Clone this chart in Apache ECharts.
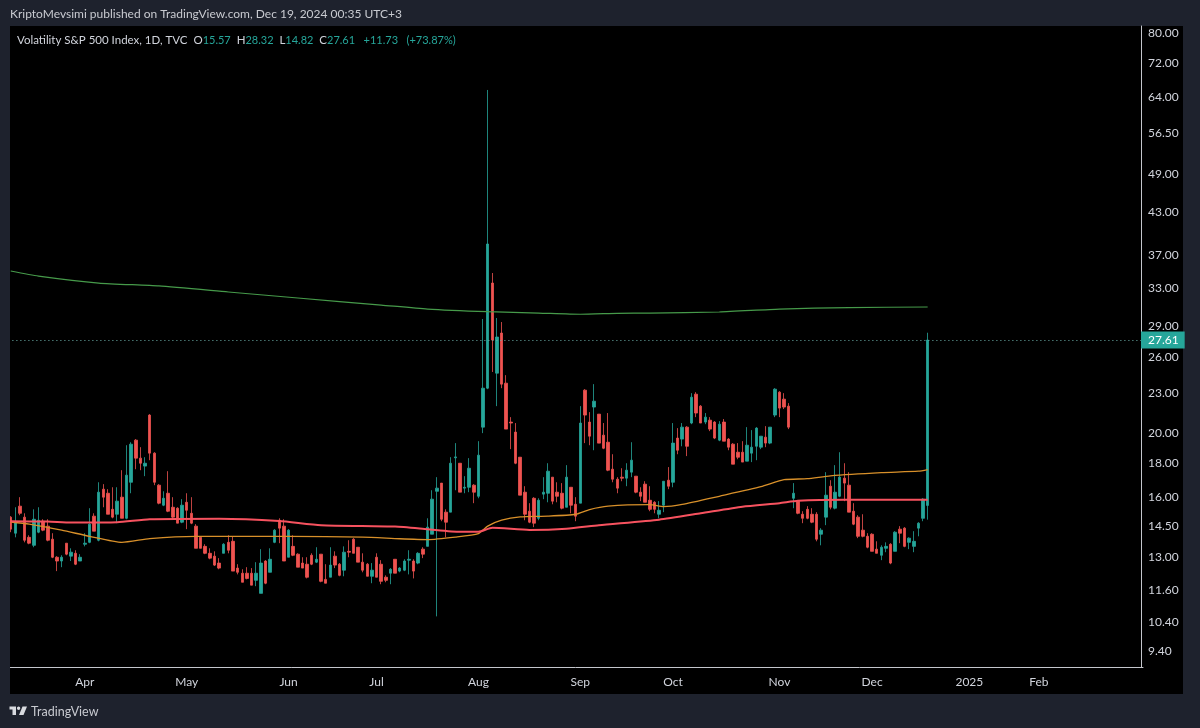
<!DOCTYPE html>
<html><head><meta charset="utf-8">
<style>html,body{margin:0;padding:0;background:#1e222d}#c{width:1200px;height:728px}</style>
<script src="https://cdn.jsdelivr.net/npm/echarts@6/dist/echarts.min.js"></script>
</head><body><div id="c"></div>
<script>
const publisher = 'KriptoMevsimi published on TradingView.com, Dec 19, 2024 00:35 UTC+3';
const symbolName = 'Volatility S&P 500 Index, 1D, TVC';
const lastQuote = {O:'15.57',H:'28.32',L:'14.82',C:'27.61',chg:'+11.73',pct:'(+73.87%)'};
const yTicks = [80,72,64,56.5,49,43,37,33,29,26,23,20,18,16,14.5,13,11.6,10.4,9.4];
const monthLabels = [[16,'Apr'],[38,'May'],[60,'Jun'],[79,'Jul'],[101,'Aug'],[123,'Sep'],[143,'Oct'],[166,'Nov'],[186,'Dec'],[207,'2025'],[222,'Feb']];
const lastPrice = 27.61;
const slotCount = 245;

const opens = [14.95,14.14,15.53,14.95,13.94,13.56,14.19,14.74,14.49,13.85,
13.01,12.84,13.66,13.06,13.19,12.84,13.61,13.70,15.00,13.80,
16.47,16.24,15.36,15.10,16.02,14.89,16.87,19.52,18.34,17.84,
21.29,18.66,16.70,15.58,16.24,15.47,15.42,14.69,15.74,15.15,
14.49,13.94,13.51,13.19,13.06,12.75,13.19,13.70,13.75,12.53,
12.31,12.31,12.31,12.01,11.48,12.84,12.35,13.70,14.79,14.49,
13.01,13.51,13.15,12.75,12.70,13.10,12.79,13.15,12.05,12.14,
13.06,12.70,12.44,13.28,13.85,13.47,12.79,12.70,12.18,13.01,
12.70,12.14,12.31,12.92,12.40,12.44,12.88,12.84,12.75,13.38,
13.51,14.09,16.35,16.82,15.21,15.21,18.36,18.02,16.53,16.58,
16.70,16.07,20.42,23.37,33.64,24.62,28.29,23.78,20.78,20.07,
18.40,16.30,15.26,15.96,14.89,16.19,16.24,17.17,16.30,16.24,
15.47,16.58,15.63,15.69,23.21,20.78,21.89,21.36,19.86,19.38,
17.65,17.05,17.17,17.11,17.47,17.23,16.30,16.76,15.85,15.74,
15.10,15.58,16.99,16.87,19.66,19.59,20.42,20.71,22.89,21.96,
20.78,20.92,20.78,19.52,20.78,19.59,19.25,18.72,18.72,18.15,
18.66,19.11,19.05,19.72,19.32,21.29,23.05,22.50,21.96,15.96,
15.80,15.10,15.36,15.10,15.10,14.09,14.95,16.64,15.42,16.07,
17.11,16.70,15.26,14.95,14.29,13.99,14.09,13.38,13.10,13.42,
13.61,13.28,14.34,14.39,13.70,13.51,14.39,14.89,15.57];

const closes = [14.34,14.69,15.15,13.80,13.66,14.84,14.79,14.29,13.80,13.01,
12.84,13.01,13.15,13.24,12.70,13.01,13.66,14.59,14.24,16.30,
16.02,15.10,14.95,15.80,14.89,17.29,19.25,18.34,18.02,18.02,
18.66,16.87,15.69,15.96,15.26,14.95,14.64,15.58,15.31,14.64,
13.42,13.42,13.19,12.97,12.66,12.53,13.61,13.33,12.40,12.35,
11.93,12.09,11.81,12.31,12.75,11.89,12.92,14.29,14.39,12.84,
14.29,13.10,12.57,12.53,12.14,12.70,12.92,11.97,11.89,12.66,
12.66,12.22,13.24,13.24,13.19,12.79,12.44,12.18,12.44,12.14,
11.97,12.01,12.48,12.31,12.53,12.84,12.92,12.40,13.19,13.15,
14.44,15.91,16.53,14.84,14.69,18.02,18.42,16.30,16.58,17.71,
16.30,18.53,23.37,38.51,27.61,27.90,23.70,20.28,20.71,18.02,
16.13,15.10,14.69,14.64,15.85,16.30,17.53,15.80,16.07,15.42,
17.17,15.58,15.00,20.71,21.29,19.79,22.34,19.32,18.98,17.59,
17.05,16.53,17.11,17.59,18.21,16.30,16.07,15.74,15.36,15.36,
15.31,16.93,16.64,19.32,18.85,20.42,19.11,22.65,21.44,20.71,
21.14,20.28,19.66,20.63,19.45,19.05,17.96,18.40,18.09,19.18,
19.05,20.35,19.79,19.32,20.42,23.29,21.81,21.89,20.42,16.24,
15.15,14.89,14.89,14.69,13.85,14.29,16.13,15.47,16.30,17.17,
16.82,15.21,14.59,13.99,13.99,13.47,13.28,13.19,13.47,13.51,
12.75,14.19,14.14,13.51,13.90,13.75,14.64,15.91,27.61];

const highs = [15.00,15.47,16.02,15.15,14.04,15.36,15.47,14.84,14.84,14.14,
13.06,13.10,13.66,13.42,13.33,13.15,14.14,15.42,15.15,16.87,
16.76,16.47,16.58,16.58,17.59,19.18,19.38,19.59,19.05,18.40,
21.36,18.72,16.76,16.35,17.53,16.02,15.47,15.91,16.24,16.02,
14.59,13.94,13.61,13.42,13.28,12.97,13.66,14.04,13.99,12.70,
12.48,12.57,12.53,12.79,13.38,12.88,13.42,14.34,14.89,14.84,
14.34,14.04,13.19,13.01,13.01,13.19,13.47,13.15,12.70,13.47,
13.28,12.75,13.51,13.80,13.90,13.47,13.19,12.75,12.75,13.19,
12.88,12.22,12.53,12.92,12.57,12.92,13.33,12.92,13.24,13.47,
14.89,16.41,17.17,16.82,15.36,18.40,19.32,18.02,17.23,18.34,
16.76,19.45,29.70,65.67,34.83,29.80,29.39,24.45,21.14,20.71,
18.40,16.64,15.69,16.02,15.96,17.17,18.02,17.17,16.87,16.82,
17.90,16.58,16.02,21.96,23.29,21.51,23.70,21.36,20.71,21.44,
18.59,17.17,17.71,18.02,19.38,17.23,16.58,16.93,16.64,15.80,
15.80,16.93,17.78,20.71,20.35,20.71,20.49,22.97,23.05,22.04,
21.44,21.14,20.85,20.85,21.00,19.66,19.32,19.32,19.45,20.42,
20.21,20.42,19.79,20.49,20.42,23.37,23.13,22.97,22.19,16.82,
15.80,15.26,15.53,15.42,15.21,14.39,17.47,16.99,17.90,18.72,
18.02,17.47,15.69,15.05,15.10,14.14,14.14,13.75,13.56,13.70,
13.66,14.24,14.49,14.44,13.94,14.24,14.69,15.96,28.32];

const lows = [14.19,13.94,15.05,13.70,13.61,13.47,14.14,14.24,13.75,12.97,
12.40,12.57,13.10,12.84,12.66,12.84,13.51,13.66,14.24,13.75,
15.47,15.10,14.89,14.64,14.89,14.84,16.24,17.65,17.59,17.23,
18.21,16.70,15.63,15.53,15.21,14.89,14.64,14.64,14.34,14.59,
13.42,13.42,13.15,12.92,12.62,12.48,13.19,13.19,12.40,12.26,
11.93,12.05,11.81,11.77,11.48,11.85,12.35,13.66,13.66,12.84,
13.01,13.06,12.57,12.53,12.09,12.66,12.75,11.93,11.89,12.14,
12.53,12.18,12.18,13.01,13.19,12.79,12.35,12.18,11.89,12.14,
11.85,11.93,11.85,12.31,12.35,12.40,12.26,12.09,12.70,12.97,
13.51,14.09,10.60,14.74,13.94,15.21,16.41,16.30,16.24,16.30,
15.69,15.96,20.00,23.29,24.72,21.96,23.37,20.28,18.92,17.96,
16.13,14.79,14.64,14.44,14.79,15.91,15.74,15.63,15.74,15.36,
15.47,15.15,14.74,15.69,19.32,19.18,18.85,19.32,18.92,17.53,
16.87,16.24,16.93,16.64,17.17,16.24,15.80,15.74,15.26,15.15,
14.89,15.21,16.47,16.58,18.59,19.11,18.47,20.63,21.14,20.71,
20.63,20.14,19.59,19.45,19.45,18.85,17.96,18.27,18.09,18.15,
18.09,18.21,18.92,19.05,19.25,21.14,21.14,21.74,20.28,15.42,
15.10,14.64,14.84,14.64,13.75,13.56,14.54,15.36,15.36,16.02,
15.80,15.21,14.54,13.90,13.94,13.42,13.28,13.19,12.88,13.24,
12.70,13.28,13.66,13.47,13.38,13.24,13.99,14.74,14.82];

// moving averages read at knots: [bar index, value]
const maRed = [[0,14.74],[8,14.72],[13,14.67],[23,14.69],[30,14.84],[45,14.87],[58,14.75],[67,14.54],[83,14.47],[90,14.34],[97,14.21],[101,14.21],[104,14.41],[112,14.30],[120,14.36],[127,14.54],[140,14.82],[149,15.15],[158,15.50],[166,15.69],[170,15.82],[180,15.88],[198,15.88]];
const maOrange = [[0,14.70],[4,14.59],[11,14.29],[17,13.99],[24,13.70],[30,13.88],[40,13.99],[60,13.99],[76,13.95],[84,13.87],[90,13.83],[96,13.95],[101,14.12],[103,14.49],[106,14.79],[110,14.96],[116,15.00],[122,15.10],[125,15.35],[129,15.53],[138,15.61],[141,15.50],[145,15.62],[153,16.07],[162,16.61],[167,17.02],[172,17.08],[177,17.25],[188,17.44],[196,17.53],[198,17.63]];
const maGreen = [[0,35.07],[6,34.46],[19,33.64],[32,33.30],[47,32.61],[62,31.94],[80,31.17],[90,30.74],[103,30.46],[114,30.32],[123,30.19],[131,30.29],[138,30.32],[153,30.43],[166,30.74],[181,30.90],[198,30.96]];

const UP = '#26a69a', DOWN = '#ef5350', TEXT = '#d1d4dc', FRAME = '#1e222d';
const FONT = 'Lato, "Noto Sans", sans-serif';

const categories = [];
for (let i = 0; i < slotCount; i++) {
  const m = monthLabels.find(p => p[0] === i);
  categories.push(m ? m[1] : '');
}
const candles = opens.map((o, i) => [o, closes[i], lows[i], highs[i]]);

const chart = echarts.init(document.getElementById('c'), null, {renderer: 'canvas'});
chart.setOption({
  animation: false,
  backgroundColor: FRAME,
  textStyle: {fontFamily: FONT},
  grid: {left: 8.4, right: 57, top: 26, bottom: 61},
  title: [
    {text: publisher, left: 5, top: 3, textStyle: {color: '#c8cad0', fontSize: 12, fontWeight: 400, fontFamily: FONT}},
    {text: `{w|${symbolName}}{w|  O}{v|${lastQuote.O}}{w|  H}{v|${lastQuote.H}}{w|  L}{v|${lastQuote.L}}{w|  C}{v|${lastQuote.C}}{v|   ${lastQuote.chg}   ${lastQuote.pct}}`,
     left: 12, top: 29,
     textStyle: {fontWeight: 400, rich: {w: {color: '#d1d4dc', fontSize: 11.5, fontWeight: 400, fontFamily: FONT}, v: {color: '#26a69a', fontSize: 11, fontWeight: 400, fontFamily: FONT}}}}
  ],
  xAxis: {
    type: 'category', data: categories, boundaryGap: true,
    axisLine: {lineStyle: {color: '#c4c6cc', width: 1}},
    axisTick: {show: false}, splitLine: {show: false},
    axisLabel: {color: TEXT, fontSize: 12, margin: 9, interval: (i, v) => v !== '', hideOverlap: false}
  },
  yAxis: {
    type: 'log', logBase: 10, position: 'right', offset: -2,
    min: 8.895, max: 81.96, scale: true,
    axisLine: {show: true, lineStyle: {color: '#c4c6cc', width: 1}},
    axisTick: {show: false, customValues: yTicks}, splitLine: {show: false}, minorTick: {show: false},
    axisLabel: {color: TEXT, fontSize: 12, margin: 7, customValues: yTicks, formatter: v => Number(v).toFixed(2)}
  },
  series: [
    {type: 'candlestick', data: candles, barWidth: 3,
     itemStyle: {color: UP, color0: DOWN, borderColor: UP, borderColor0: DOWN, borderColorDoji: UP, borderWidth: 0.8},
     markLine: {silent: true, symbol: 'none', animation: false,
       lineStyle: {color: '#6fb3ad', type: [1, 3], width: 1},
       label: {show: true, position: 'end', distance: -2, formatter: lastPrice.toFixed(2), color: '#fff', backgroundColor: UP, padding: [3, 6, 2, 7], fontSize: 12, fontFamily: FONT},
       data: [{yAxis: lastPrice}]}},
    {type: 'line', data: maGreen, showSymbol: false, smooth: 0.2, z: 3, lineStyle: {color: '#469a4a', width: 1.2}},
    {type: 'line', data: maOrange, showSymbol: false, smooth: 0.2, z: 3, lineStyle: {color: '#d8902a', width: 1.3}},
    {type: 'line', data: maRed, showSymbol: false, smooth: 0.2, z: 3, lineStyle: {color: '#f7525f', width: 2}}
  ],
  graphic: [
    {type: 'rect', silent: true, z: -10, shape: {x: 10, y: 26, width: 1173, height: 668}, style: {fill: '#000'}},
    {type: 'rect', silent: true, z: 50, shape: {x: 0, y: 26, width: 10, height: 668}, style: {fill: FRAME}},
    {type: 'polygon', silent: true, z: 50, shape: {points: [[9.5,706.5],[16,706.5],[16,715],[12.5,715],[12.5,709.5],[9.5,709.5]]}, style: {fill: '#d8dadf'}},
    {type: 'circle', silent: true, z: 50, shape: {cx: 18.6, cy: 708.2, r: 1.7}, style: {fill: '#d8dadf'}},
    {type: 'polygon', silent: true, z: 50, shape: {points: [[22.5,706.5],[27,706.5],[23.5,715],[19,715]]}, style: {fill: '#d8dadf'}},
    {type: 'text', silent: true, z: 50, x: 31, y: 705, style: {text: 'TradingView', fill: '#c8cad0', fontSize: 12.5, fontFamily: FONT}}
  ]
});
</script></body></html>
